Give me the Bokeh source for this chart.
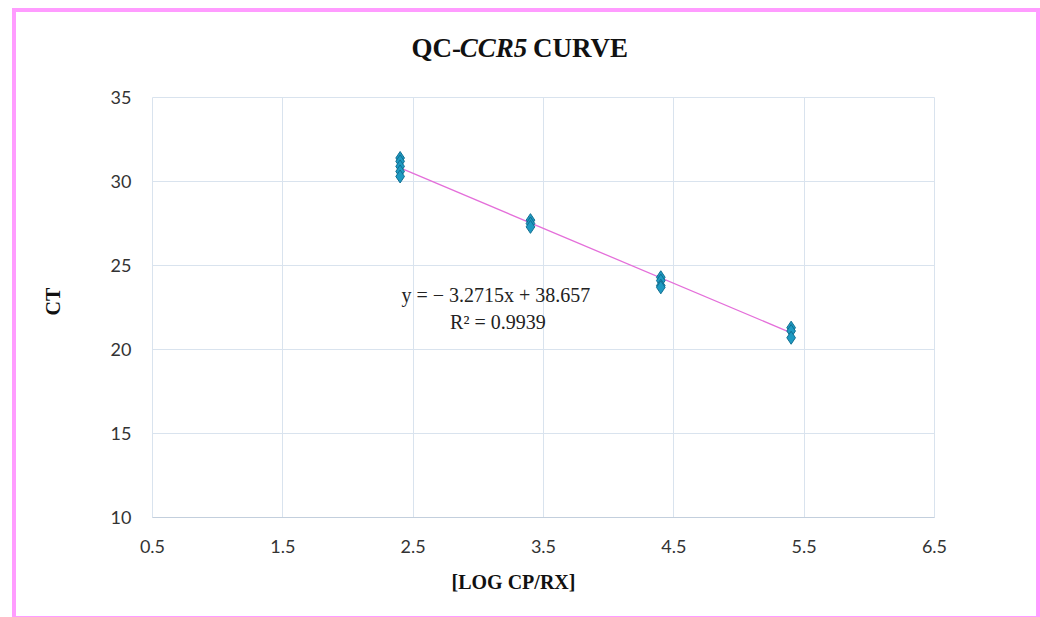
from bokeh.plotting import figure
from bokeh.models import FixedTicker, Label
from bokeh.embed import file_html
from bokeh.resources import INLINE
import math

# ---- data ----
log_copies = [2.4, 2.4, 2.4, 2.4, 2.4,
              3.4, 3.4, 3.4,
              4.4, 4.4, 4.4, 4.4,
              5.4, 5.4, 5.4]
ct_values = [31.4, 31.2, 30.9, 30.6, 30.3,
             27.7, 27.5, 27.3,
             24.3, 24.1, 23.8, 23.7,
             21.3, 21.1, 20.7]
fit_slope = -3.2715
fit_intercept = 38.657
fit_r2 = 0.9939
x_ticks = [0.5, 1.5, 2.5, 3.5, 4.5, 5.5, 6.5]
y_ticks = [10, 15, 20, 25, 30, 35]
title_parts = ["QC-", "CCR5", "CURVE"]
x_title = "[LOG CP/RX]"
y_title = "CT"

SERIF = "Liberation Serif"
TICKFONT = "Lato"

p = figure(width=1028, height=612, x_range=(0.5, 6.5), y_range=(10, 35),
           output_backend="svg", toolbar_location=None, title=None,
           min_border_left=136, min_border_right=110,
           min_border_top=85, min_border_bottom=107)
p.styles = {"border": "4px solid #FF9CFF", "margin-left": "5px",
            "margin-top": "1px", "margin-bottom": "-40px",
            "position": "relative", "left": "7px", "top": "7px"}

p.background_fill_color = "white"
p.border_fill_color = "white"
p.outline_line_color = "#D9E3EE"
p.outline_line_width = 1

p.xaxis.ticker = FixedTicker(ticks=x_ticks)
p.yaxis.ticker = FixedTicker(ticks=y_ticks)
for ax in (p.xaxis, p.yaxis):
    ax.major_tick_line_color = None
    ax.minor_tick_line_color = None
    ax.major_label_text_font = TICKFONT
    ax.major_label_text_font_size = "18px"
    ax.major_label_text_color = "#333333"
p.xaxis.axis_line_color = "#C3CFDD"
p.yaxis.axis_line_color = None
p.xaxis.major_label_standoff = 16
p.yaxis.major_label_standoff = 15

p.xgrid.ticker = FixedTicker(ticks=x_ticks)
p.ygrid.ticker = FixedTicker(ticks=y_ticks)
p.grid.grid_line_color = "#D9E3EE"
p.grid.grid_line_width = 1

# trend line
x_fit = [min(log_copies), max(log_copies)]
y_fit = [fit_slope * v + fit_intercept for v in x_fit]
p.line(x_fit, y_fit, line_color="#E46FDA", line_width=1.3)

# data points
p.scatter(log_copies, ct_values, marker="diamond", size=13,
          fill_color="#1E9AC2", line_color="#116F91", line_width=1)

def clabel(x, y, text, side, **kw):
    opts = dict(text_font=SERIF, text_font_style="bold", text_color="#111111",
                text_font_size="27px")
    opts.update(kw)
    p.add_layout(Label(x=x, y=y, x_units="canvas", y_units="canvas",
                       text=text, **opts), side)

# title (mixed styles), pieces placed in side panels so they are not clipped
clabel(440.5, 46, title_parts[0], "above", text_align="right")
clabel(473, 46, title_parts[1], "above", text_align="center",
       text_font_style="bold italic")
clabel(512.5, 46, title_parts[2], "right", text_align="left")

# axis titles
clabel(493, 576, x_title, "below", text_align="center", text_font_size="20px")
clabel(32.5, 285, y_title, "left", text_align="center", text_baseline="middle",
       angle=math.pi / 2, text_font_size="20px")

# equation
eq1 = "y = \u2212 %.4fx + %.3f" % (abs(fit_slope), fit_intercept)
eq2 = "R\u00b2 = %.4f" % fit_r2
p.add_layout(Label(x=3.135, y=22.59, text=eq1, text_align="center",
                   text_font=SERIF, text_font_size="20px", text_color="#222222"))
p.add_layout(Label(x=3.15, y=20.98, text=eq2, text_align="center",
                   text_font=SERIF, text_font_size="20px", text_color="#222222"))

open("out.html", "w").write(file_html(p, INLINE))
